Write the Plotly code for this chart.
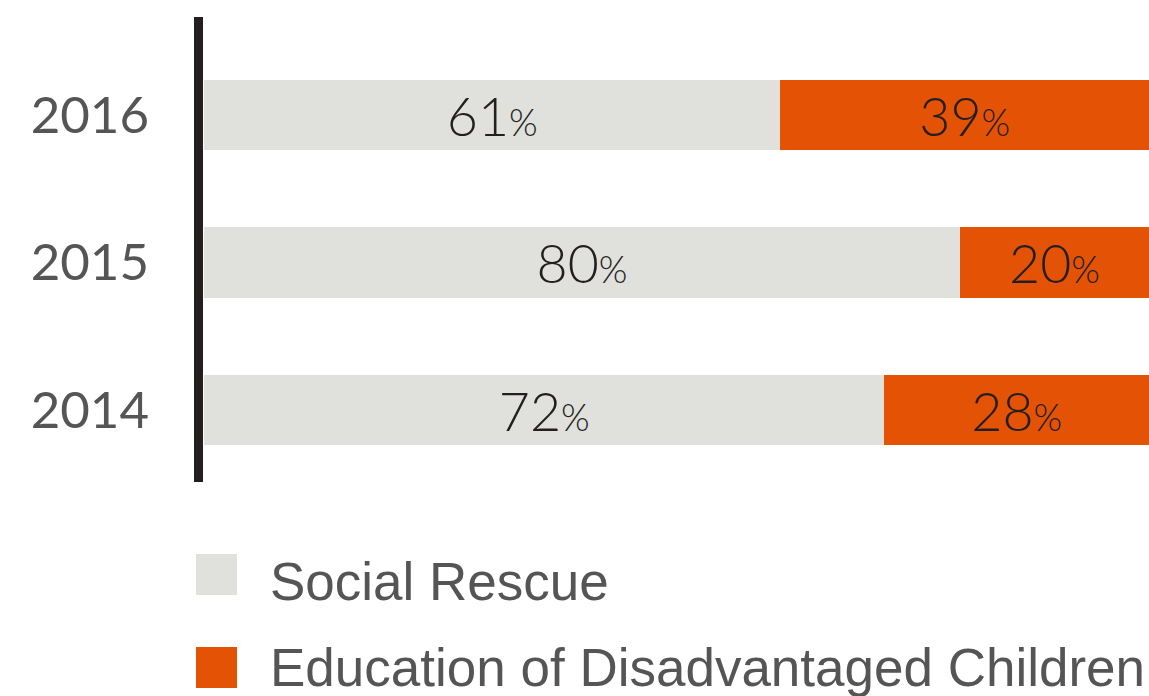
import plotly.graph_objects as go

years = ["2014", "2015", "2016"]
social_rescue = [72, 80, 61]
education = [28, 20, 39]
series_names = ["Social Rescue", "Education of Disadvantaged Children"]
series_colors = ["#e0e0dc", "#e35205"]

fig_w, fig_h = 1149, 696
plot_left, plot_top, plot_bottom = 204, 17, 482   # pixels
plot_w = fig_w - plot_left
plot_h = plot_bottom - plot_top


def px_x(x):
    return (x - plot_left) / plot_w


def px_y(y):
    return (plot_bottom - y) / plot_h


fig = go.Figure()

for name, vals, color in zip(series_names, [social_rescue, education], series_colors):
    fig.add_trace(go.Bar(
        y=years, x=vals, orientation="h", name=name,
        marker=dict(color=color, line=dict(width=0)),
        width=0.475,
        text=[f"{v}<span style='font-size:39px'>%</span>" for v in vals],
        textposition="inside", insidetextanchor="middle",
        textfont=dict(family="Lato", size=57, color="#231f20", weight=300),
        showlegend=False,
        hoverinfo="skip",
    ))

# dark baseline on the left of the bars
fig.add_shape(type="line", xref="paper", yref="paper",
              x0=px_x(198.5), x1=px_x(198.5), y0=0, y1=1,
              line=dict(color="#231f20", width=9))

# legend drawn by hand, with large square swatches
legend_rows = [574.5, 667.5]
text_shift = [7, 0]
for name, color, py, dy in zip(series_names, series_colors, legend_rows, text_shift):
    fig.add_shape(type="rect", xref="paper", yref="paper",
                  x0=px_x(196), x1=px_x(237),
                  y0=px_y(py + 20.5), y1=px_y(py - 20.5),
                  fillcolor=color, line=dict(width=0))
    fig.add_annotation(xref="paper", yref="paper", x=px_x(268), y=px_y(py + dy),
                       text=name, showarrow=False, xanchor="left", yanchor="middle",
                       font=dict(family="Liberation Sans", size=53, color="#555555"))

fig.update_layout(
    barmode="stack",
    width=fig_w, height=fig_h,
    margin=dict(l=plot_left, r=0, t=plot_top, b=fig_h - plot_bottom),
    paper_bgcolor="white", plot_bgcolor="white",
    xaxis=dict(range=[0, 100], visible=False),
    yaxis=dict(range=[-0.488, 2.664], showgrid=False, zeroline=False,
               showline=False, ticks="", ticklabelstandoff=54,
               tickfont=dict(family="Lato", size=51, color="#555555", weight=400)),
)

# drop the browser's default 8px body margin so the figure sits at the window origin
fig.write_html("out.html", config={"displayModeBar": False},
               post_script="document.body.style.margin='0';")
